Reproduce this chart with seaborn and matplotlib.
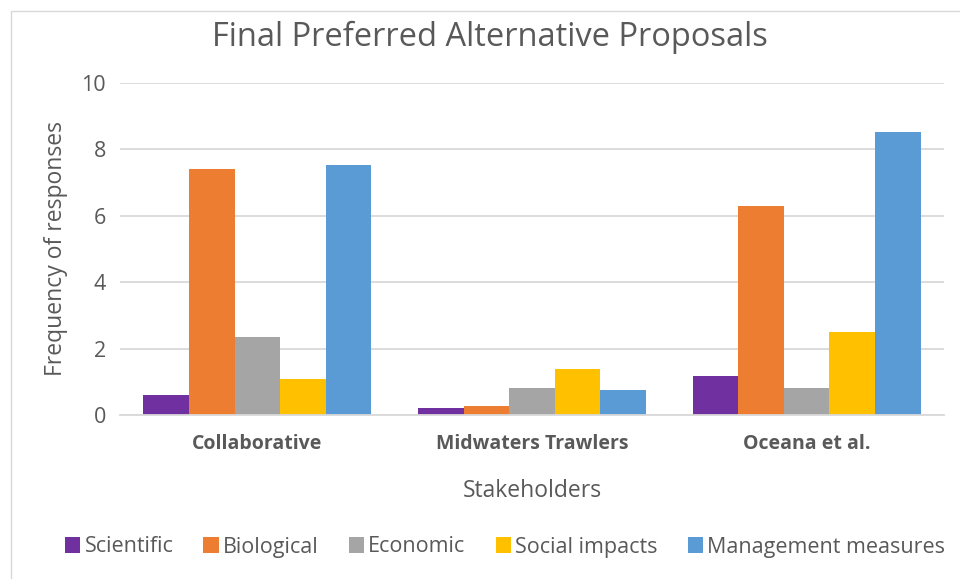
import matplotlib
matplotlib.use("Agg")
import matplotlib.pyplot as plt
from matplotlib.patches import Rectangle
import seaborn as sns
import pandas as pd

# Stakeholder groups and response counts per theme
stakeholders = ["Collaborative", "Midwaters Trawlers", "Oceana et al."]
themes = ["Scientific", "Biological", "Economic", "Social impacts", "Management measures"]
scientific = [0.60, 0.20, 1.17]
biological = [7.41, 0.28, 6.29]
economic = [2.34, 0.82, 0.80]
social_impacts = [1.07, 1.38, 2.50]
management_measures = [7.53, 0.76, 8.52]
colors = ["#7030A0", "#ED7D31", "#A5A5A5", "#FFC000", "#5B9BD5"]

series = [scientific, biological, economic, social_impacts, management_measures]
rows = []
for theme, vals in zip(themes, series):
    for s, v in zip(stakeholders, vals):
        rows.append({"Stakeholders": s, "Theme": theme, "Frequency": v})
df = pd.DataFrame(rows)

sns.set_theme(style="white")
plt.rcParams["font.family"] = ["Open Sans", "DejaVu Sans"]

text_gray = "#595959"
grid_gray = "#D9D9D9"

fig = plt.figure(figsize=(9.6, 5.79), dpi=100)
fig.patch.set_facecolor("white")

# chart border
fig.patches.append(Rectangle((11 / 960, -0.1), 1.2, 1 - 11 / 579 + 0.1,
                             transform=fig.transFigure, fill=False,
                             edgecolor="#D9D9D9", linewidth=1.0))

ax = fig.add_axes([120 / 960, 1 - 415 / 579, 824 / 960, (415 - 82.7) / 579])
sns.barplot(data=df, x="Stakeholders", y="Frequency", hue="Theme",
            hue_order=themes, order=stakeholders, palette=colors,
            width=0.83, linewidth=0, saturation=1, ax=ax, legend=True)

ax.set_ylim(0, 10)
ax.set_yticks([0, 2, 4, 6, 8, 10])
ax.set_xlim(-0.5, 2.5)
ax.yaxis.grid(True, color=grid_gray, linewidth=1.3)
ax.set_axisbelow(True)
for side in ["top", "right", "left"]:
    ax.spines[side].set_visible(False)
ax.spines["bottom"].set_color(grid_gray)
ax.spines["bottom"].set_linewidth(1.3)
ax.tick_params(axis="both", length=0)
ax.tick_params(axis="y", labelsize=15.5, labelcolor=text_gray, pad=10)
ax.tick_params(axis="x", labelsize=14, labelcolor=text_gray, pad=14)
for lab in ax.get_xticklabels():
    lab.set_fontweight("bold")

ax.set_xlabel("Stakeholders", fontsize=16.5, color=text_gray, labelpad=18)
ax.set_ylabel("Frequency of responses", fontsize=16.5, color=text_gray, labelpad=10)

fig.text(490 / 960, 1 - 37 / 579, "Final Preferred Alternative Proposals",
         ha="center", va="center", fontsize=23.5, color=text_gray)

handles, labels = ax.get_legend_handles_labels()
ax.get_legend().remove()
leg = fig.legend(handles, labels, loc="center", bbox_to_anchor=(505 / 960, 1 - 547 / 579),
                 ncol=5, frameon=False, fontsize=15.5, handlelength=0.7,
                 handleheight=0.7, handletextpad=0.2, columnspacing=1.4)
for t in leg.get_texts():
    t.set_color(text_gray)

fig.savefig("out.png", dpi=100, facecolor="white")
